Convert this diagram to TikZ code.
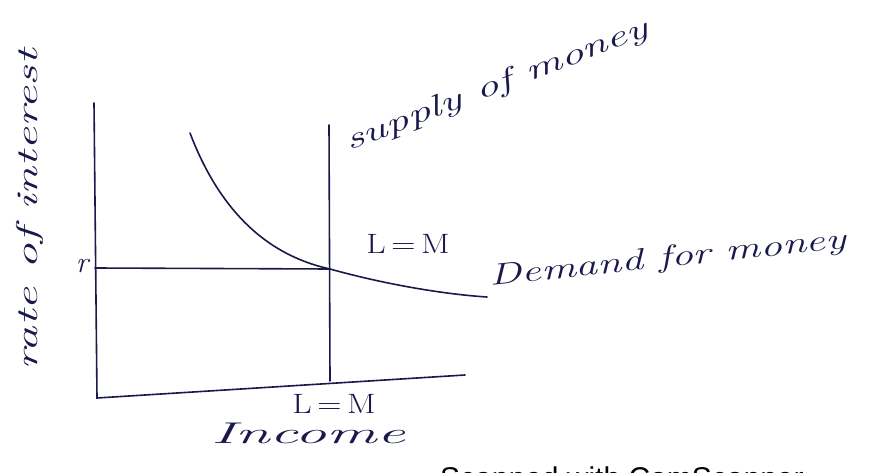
\documentclass[tikz,border=0pt]{standalone}
\usepackage{fontspec}
\newfontfamily\scanfont{Liberation Sans}
\definecolor{ink}{RGB}{25,25,75}
\newcommand{\wide}[2]{\scalebox{#1}[1]{#2}}
\begin{document}
\begin{tikzpicture}[x=1pt,y=-1pt,
  line/.style={draw=ink,line width=1.6pt,line cap=round},
  hand/.style={text=ink,font=\itshape\fontsize{30}{34}\selectfont,inner sep=0pt}]
\useasboundingbox (0,0) rectangle (890,473);
% axes
\coordinate (ytop) at (94,103);
\coordinate (origin) at (97,398);
\coordinate (xend) at (465,375);
\draw[line] (ytop) -- (origin) -- (xend);
% supply line
\coordinate (stop) at (329,125);
\coordinate (sbot) at (330,381);
\draw[line] (stop) -- (sbot);
% interest rate line
\coordinate (rleft) at (95,268);
\coordinate (eq) at (330,269);
\draw[line] (rleft) -- (eq);
% demand curve
\coordinate (dstart) at (190,133);
\coordinate (dend) at (487,297);
\draw[line] (dstart) .. controls (225,225) and (280,258) .. (eq)
  .. controls (380,283) and (440,294) .. (dend);
% labels
\node[hand] (r) at (82,266) {r};
\node[hand,font=\fontsize{28}{32}\selectfont] (lm) at (408,244) {\wide{1.2}{L\,=\,M}};
\node[hand,font=\fontsize{28}{32}\selectfont] (lm2) at (334,404) {\wide{1.2}{L\,=\,M}};
\node[hand] (inc) at (308,433) {\wide{2.1}{Income}};
\node[hand,rotate=21] (sup) at (497,86) {\wide{1.55}{supply of money}};
\node[hand,rotate=6,anchor=west] (dem) at (490,278) {\wide{1.45}{Demand for money}};
\node[hand,rotate=90] (rate) at (30,210) {\wide{1.7}{rate of interest}};
\node[anchor=west,inner sep=0pt,font=\scanfont\fontsize{30}{34}\selectfont,text=black] (scan) at (440,478) {Scanned with CamScanner};
\end{tikzpicture}
\end{document}
